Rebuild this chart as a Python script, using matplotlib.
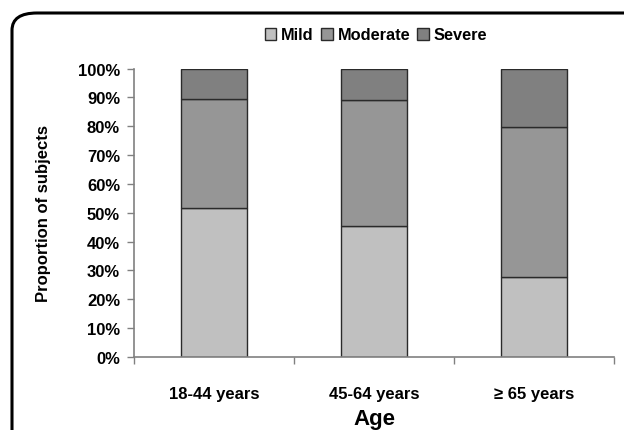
import numpy as np
import matplotlib
matplotlib.use("Agg")
import matplotlib.pyplot as plt
from matplotlib.patches import FancyBboxPatch

plt.rcParams['font.family'] = ['Liberation Sans', 'DejaVu Sans']

groups = ['18-44 years', '45-64 years', '\u2265 65 years']
mild = [51.8, 45.4, 27.6]
moderate = [37.5, 43.6, 52.1]
severe = [10.7, 11.0, 20.3]
series_names = ['Mild', 'Moderate', 'Severe']
colors = ['#c0c0c0', '#969696', '#808080']

fig = plt.figure(figsize=(6.24, 4.31), dpi=100)

# rounded frame that runs off the right and bottom edges
frame = FancyBboxPatch((12 / 624, -0.2), 1.2, 1.2 - 14 / 431,
                       boxstyle="round,pad=0,rounding_size=0.04",
                       transform=fig.transFigure, fill=False,
                       edgecolor='black', linewidth=2.2, clip_on=False)
fig.patches.append(frame)

ax = fig.add_axes([134 / 624, 1 - 358 / 431, 480 / 624, (358 - 69.5) / 431])

x = np.arange(len(groups))
w = 0.41
bottom = np.zeros(len(groups))
for vals, name, c in zip([mild, moderate, severe], series_names, colors):
    ax.bar(x, vals, w, bottom=bottom, color=c, edgecolor='#2a2a2a',
           linewidth=1.0, label=name)
    bottom += np.array(vals)

ax.set_xlim(-0.5, 2.5)
ax.set_ylim(0, 100)
ax.set_yticks(np.arange(0, 101, 10))
ax.set_yticklabels([f'{v}%' for v in range(0, 101, 10)],
                   fontsize=12, fontweight='bold')
ax.set_xticks([-0.5, 0.5, 1.5, 2.5])
ax.set_xticklabels([])
ax.set_xticks(x, minor=True)
ax.set_xticklabels(groups, minor=True, fontsize=12, fontweight='bold')
ax.tick_params(axis='x', which='minor', length=0, pad=21)
ax.tick_params(axis='both', which='major', length=5, color='#808080',
               direction='out', width=1)
ax.tick_params(axis='y', pad=5)

for s in ['top', 'right']:
    ax.spines[s].set_visible(False)
for s in ['left', 'bottom']:
    ax.spines[s].set_color('#808080')
    ax.spines[s].set_linewidth(1.2)

ax.set_ylabel('Proportion of subjects', fontsize=12, fontweight='bold',
              labelpad=19)
ax.set_xlabel('Age', fontsize=16, fontweight='bold', labelpad=5)

fig.legend(loc='center', bbox_to_anchor=(376 / 624, 1 - 36 / 431),
           ncol=3, frameon=False, handlelength=0.7, handleheight=0.7,
           handletextpad=0.3, columnspacing=0.45,
           prop={'weight': 'bold', 'size': 11.8})

fig.savefig('out.png', dpi=100)
